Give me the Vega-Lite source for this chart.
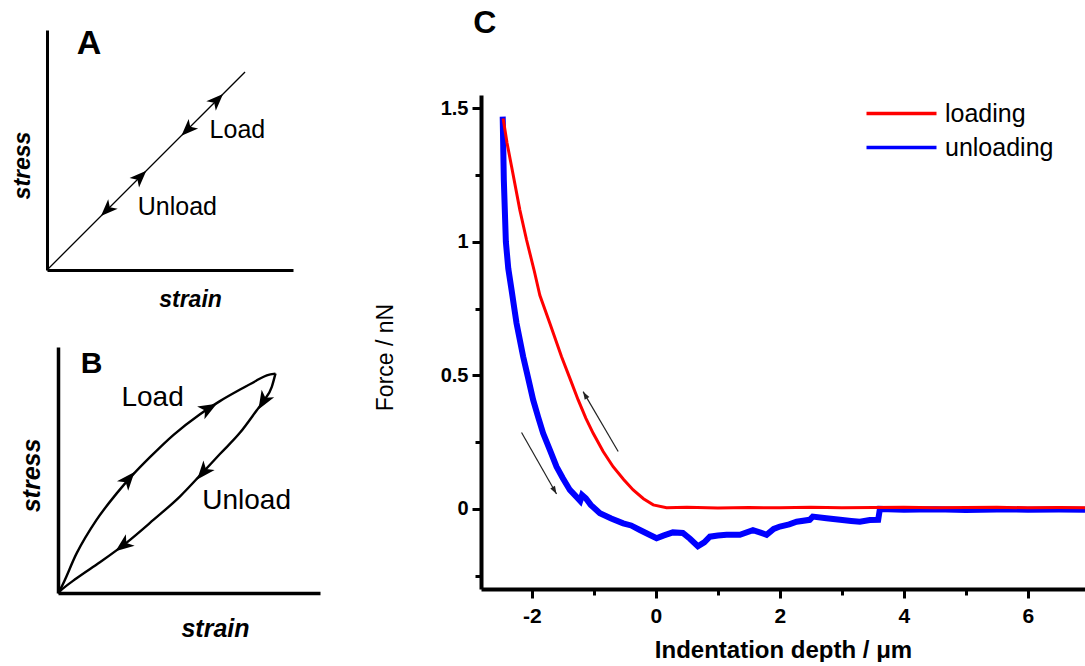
{
  "$schema": "https://vega.github.io/schema/vega-lite/v6.json",
  "padding": {"left": 11, "top": 7, "right": 0, "bottom": 0},
  "config": {
    "font": "Liberation Sans",
    "view": {"stroke": null},
    "axis": {"labelColor": "black", "titleColor": "black", "domainColor": "black", "tickColor": "black", "grid": false},
    "legend": {"orient": "none", "legendX": 842, "legendY": 71, "padding": 0, "direction": "vertical",
               "symbolType": "M-5,0L5,0", "symbolSize": 196, "symbolStrokeWidth": 3.5,
               "labelFontSize": 25, "labelColor": "black", "labelOffset": 31, "rowPadding": 8}
  },
  "datasets": {
    "diagramA": [
      {"strain": 0, "stress": 0},
      {"strain": 8.05, "stress": 8.25}
    ],
    "arrowsA": [
      {"strain": 6.90, "stress": 7.07, "heading": 45},
      {"strain": 5.72, "stress": 5.86, "heading": 225},
      {"strain": 3.78, "stress": 3.87, "heading": 45},
      {"strain": 2.45, "stress": 2.51, "heading": 225}
    ],
    "labelsA": [
      {"strain": 7.74, "stress": 5.83, "label": "Load"},
      {"strain": 5.30, "stress": 2.63, "label": "Unload"}
    ],
    "panelA": [
      {"strain": 1.71, "stress": 9.40, "label": "A"}
    ],
    "diagramB": [
      {"path": "load", "strain": 0, "stress": 0},
      {"path": "load", "strain": 0.08, "stress": 0.14},
      {"path": "load", "strain": 0.71, "stress": 1.61},
      {"path": "load", "strain": 1.47, "stress": 2.97},
      {"path": "load", "strain": 2.24, "stress": 4.05},
      {"path": "load", "strain": 2.87, "stress": 4.82},
      {"path": "load", "strain": 3.51, "stress": 5.52},
      {"path": "load", "strain": 4.40, "stress": 6.42},
      {"path": "load", "strain": 5.42, "stress": 7.27},
      {"path": "load", "strain": 6.18, "stress": 7.80},
      {"path": "load", "strain": 6.95, "stress": 8.27},
      {"path": "load", "strain": 7.55, "stress": 8.62},
      {"path": "load", "strain": 7.97, "stress": 8.85},
      {"path": "load", "strain": 8.30, "stress": 8.92},
      {"path": "unload", "strain": 8.30, "stress": 8.92},
      {"path": "unload", "strain": 8.16, "stress": 8.38},
      {"path": "unload", "strain": 7.84, "stress": 7.80},
      {"path": "unload", "strain": 7.58, "stress": 7.42},
      {"path": "unload", "strain": 6.95, "stress": 6.52},
      {"path": "unload", "strain": 6.18, "stress": 5.65},
      {"path": "unload", "strain": 5.42, "stress": 4.78},
      {"path": "unload", "strain": 4.66, "stress": 3.93},
      {"path": "unload", "strain": 3.64, "stress": 2.97},
      {"path": "unload", "strain": 2.62, "stress": 2.05},
      {"path": "unload", "strain": 1.60, "stress": 1.25},
      {"path": "unload", "strain": 0.71, "stress": 0.60},
      {"path": "unload", "strain": 0.08, "stress": 0.08},
      {"path": "unload", "strain": 0, "stress": 0}
    ],
    "arrowsB": [
      {"strain": 2.68, "stress": 4.62, "heading": 40},
      {"strain": 5.74, "stress": 7.50, "heading": 60},
      {"strain": 7.84, "stress": 7.80, "heading": 211},
      {"strain": 5.55, "stress": 4.92, "heading": 220},
      {"strain": 2.49, "stress": 1.94, "heading": 233}
    ],
    "labelsB": [
      {"strain": 3.61, "stress": 7.93, "label": "Load"},
      {"strain": 7.20, "stress": 3.74, "label": "Unload"}
    ],
    "panelB": [
      {"strain": 1.28, "stress": 9.30, "label": "B"}
    ],
    "panelC": [
      {"depth": -2.758, "force": 1.818, "label": "C"}
    ],
    "forceCurve": [
      {"series": "unloading", "depth": -2.470, "force": 1.469},
      {"series": "unloading", "depth": -2.452, "force": 1.232},
      {"series": "unloading", "depth": -2.419, "force": 1.000},
      {"series": "unloading", "depth": -2.380, "force": 0.900},
      {"series": "unloading", "depth": -2.327, "force": 0.820},
      {"series": "unloading", "depth": -2.274, "force": 0.737},
      {"series": "unloading", "depth": -2.247, "force": 0.695},
      {"series": "unloading", "depth": -2.140, "force": 0.570},
      {"series": "unloading", "depth": -2.060, "force": 0.490},
      {"series": "unloading", "depth": -1.979, "force": 0.408},
      {"series": "unloading", "depth": -1.900, "force": 0.345},
      {"series": "unloading", "depth": -1.818, "force": 0.283},
      {"series": "unloading", "depth": -1.700, "force": 0.215},
      {"series": "unloading", "depth": -1.602, "force": 0.158},
      {"series": "unloading", "depth": -1.500, "force": 0.115},
      {"series": "unloading", "depth": -1.387, "force": 0.071},
      {"series": "unloading", "depth": -1.280, "force": 0.045},
      {"series": "unloading", "depth": -1.220, "force": 0.030},
      {"series": "unloading", "depth": -1.190, "force": 0.052},
      {"series": "unloading", "depth": -1.130, "force": 0.040},
      {"series": "unloading", "depth": -1.050, "force": 0.015},
      {"series": "unloading", "depth": -0.903, "force": -0.016},
      {"series": "unloading", "depth": -0.720, "force": -0.036},
      {"series": "unloading", "depth": -0.527, "force": -0.054},
      {"series": "unloading", "depth": -0.400, "force": -0.062},
      {"series": "unloading", "depth": -0.258, "force": -0.079},
      {"series": "unloading", "depth": -0.120, "force": -0.095},
      {"series": "unloading", "depth": 0.011, "force": -0.110},
      {"series": "unloading", "depth": 0.120, "force": -0.100},
      {"series": "unloading", "depth": 0.274, "force": -0.088},
      {"series": "unloading", "depth": 0.435, "force": -0.090},
      {"series": "unloading", "depth": 0.550, "force": -0.112},
      {"series": "unloading", "depth": 0.677, "force": -0.140},
      {"series": "unloading", "depth": 0.780, "force": -0.125},
      {"series": "unloading", "depth": 0.871, "force": -0.104},
      {"series": "unloading", "depth": 1.000, "force": -0.100},
      {"series": "unloading", "depth": 1.140, "force": -0.097},
      {"series": "unloading", "depth": 1.355, "force": -0.097},
      {"series": "unloading", "depth": 1.565, "force": -0.080},
      {"series": "unloading", "depth": 1.700, "force": -0.090},
      {"series": "unloading", "depth": 1.785, "force": -0.097},
      {"series": "unloading", "depth": 1.900, "force": -0.075},
      {"series": "unloading", "depth": 2.000, "force": -0.066},
      {"series": "unloading", "depth": 2.150, "force": -0.058},
      {"series": "unloading", "depth": 2.270, "force": -0.048},
      {"series": "unloading", "depth": 2.480, "force": -0.041},
      {"series": "unloading", "depth": 2.530, "force": -0.029},
      {"series": "unloading", "depth": 2.750, "force": -0.035},
      {"series": "unloading", "depth": 2.970, "force": -0.041},
      {"series": "unloading", "depth": 3.150, "force": -0.045},
      {"series": "unloading", "depth": 3.290, "force": -0.048},
      {"series": "unloading", "depth": 3.450, "force": -0.042},
      {"series": "unloading", "depth": 3.585, "force": -0.041},
      {"series": "unloading", "depth": 3.613, "force": 0.000},
      {"series": "unloading", "depth": 4.000, "force": -0.003},
      {"series": "unloading", "depth": 4.500, "force": -0.001},
      {"series": "unloading", "depth": 5.000, "force": -0.004},
      {"series": "unloading", "depth": 5.500, "force": -0.002},
      {"series": "unloading", "depth": 6.000, "force": -0.003},
      {"series": "unloading", "depth": 6.500, "force": -0.002},
      {"series": "unloading", "depth": 6.920, "force": -0.003},
      {"series": "loading", "depth": -2.463, "force": 1.462},
      {"series": "loading", "depth": -2.400, "force": 1.370},
      {"series": "loading", "depth": -2.327, "force": 1.282},
      {"series": "loading", "depth": -2.194, "force": 1.120},
      {"series": "loading", "depth": -2.085, "force": 1.007},
      {"series": "loading", "depth": -1.960, "force": 0.890},
      {"series": "loading", "depth": -1.871, "force": 0.800},
      {"series": "loading", "depth": -1.710, "force": 0.695},
      {"series": "loading", "depth": -1.521, "force": 0.570},
      {"series": "loading", "depth": -1.380, "force": 0.485},
      {"series": "loading", "depth": -1.253, "force": 0.408},
      {"series": "loading", "depth": -1.130, "force": 0.340},
      {"series": "loading", "depth": -1.011, "force": 0.283},
      {"series": "loading", "depth": -0.850, "force": 0.215},
      {"series": "loading", "depth": -0.689, "force": 0.158},
      {"series": "loading", "depth": -0.520, "force": 0.110},
      {"series": "loading", "depth": -0.366, "force": 0.071},
      {"series": "loading", "depth": -0.200, "force": 0.038},
      {"series": "loading", "depth": -0.043, "force": 0.015},
      {"series": "loading", "depth": 0.173, "force": 0.004},
      {"series": "loading", "depth": 0.500, "force": 0.006},
      {"series": "loading", "depth": 1.000, "force": 0.003},
      {"series": "loading", "depth": 1.500, "force": 0.005},
      {"series": "loading", "depth": 2.000, "force": 0.004},
      {"series": "loading", "depth": 2.500, "force": 0.006},
      {"series": "loading", "depth": 3.000, "force": 0.004},
      {"series": "loading", "depth": 3.500, "force": 0.005},
      {"series": "loading", "depth": 4.000, "force": 0.006},
      {"series": "loading", "depth": 4.500, "force": 0.004},
      {"series": "loading", "depth": 5.000, "force": 0.005},
      {"series": "loading", "depth": 5.500, "force": 0.006},
      {"series": "loading", "depth": 6.000, "force": 0.004},
      {"series": "loading", "depth": 6.500, "force": 0.005},
      {"series": "loading", "depth": 6.920, "force": 0.004}
    ],
    "arrowsC": [
      {"depth": -0.608, "force": 0.215, "tipDepth": -1.173, "tipForce": 0.439, "heading": 330},
      {"depth": -2.166, "force": 0.286, "tipDepth": -1.602, "tipForce": 0.056, "heading": 150}
    ]
  },
  "hconcat": [
    {
      "vconcat": [
        {
          "width": 246,
          "height": 240,
          "layer": [
            {
              "data": {"name": "diagramA"},
              "mark": {"type": "line", "color": "black", "strokeWidth": 1.3},
              "encoding": {
                "x": {"field": "strain", "type": "quantitative", "scale": {"domain": [0, 10], "nice": false},
                      "axis": {"title": "strain", "ticks": false, "labels": false, "domainWidth": 3, "minExtent": 0, "titleFontSize": 23, "titleFontWeight": "bold", "titleFontStyle": "italic", "titlePadding": 18, "titleX": 143}},
                "y": {"field": "stress", "type": "quantitative", "scale": {"domain": [0, 10], "nice": false},
                      "axis": {"title": "stress", "ticks": false, "labels": false, "domainWidth": 3, "minExtent": 0, "titleFontSize": 23, "titleFontWeight": "bold", "titleFontStyle": "italic", "titlePadding": 13, "titleY": 135}}
              }
            },
            {
              "data": {"name": "arrowsA"},
              "mark": {"type": "point", "shape": "M0,-1L0.75,0.9L0,0.4L-0.75,0.9Z", "filled": true, "color": "black", "opacity": 1, "size": 320},
              "encoding": {
                "x": {"field": "strain", "type": "quantitative"},
                "y": {"field": "stress", "type": "quantitative"},
                "angle": {"field": "heading", "type": "quantitative", "scale": null}
              }
            },
            {
              "data": {"name": "labelsA"},
              "mark": {"type": "text", "fontSize": 25, "color": "black", "align": "center", "baseline": "middle"},
              "encoding": {
                "x": {"field": "strain", "type": "quantitative"},
                "y": {"field": "stress", "type": "quantitative"},
                "text": {"field": "label"}
              }
            },
            {
              "data": {"name": "panelA"},
              "mark": {"type": "text", "fontSize": 34, "fontWeight": "bold", "color": "black", "align": "center", "baseline": "middle"},
              "encoding": {
                "x": {"field": "strain", "type": "quantitative"},
                "y": {"field": "stress", "type": "quantitative"},
                "text": {"field": "label"}
              }
            }
          ]
        },
        {
          "width": 273,
          "height": 246,
          "layer": [
            {
              "data": {"name": "diagramB"},
              "mark": {"type": "line", "color": "black", "strokeWidth": 2.4, "interpolate": "monotone"},
              "encoding": {
                "x": {"field": "strain", "type": "quantitative", "scale": {"domain": [0, 10], "nice": false, "range": [11, 273]},
                      "axis": {"title": "strain", "ticks": false, "labels": false, "domainWidth": 3.5, "minExtent": 0, "titleFontSize": 25, "titleFontWeight": "bold", "titleFontStyle": "italic", "titlePadding": 23, "titleX": 168}},
                "y": {"field": "stress", "type": "quantitative", "scale": {"domain": [0, 10], "nice": false},
                      "axis": {"title": "stress", "ticks": false, "labels": false, "domainWidth": 3.5, "minExtent": 0, "offset": -11, "titleFontSize": 25, "titleFontWeight": "bold", "titleFontStyle": "italic", "titlePadding": 14, "titleY": 128}},
                "detail": {"field": "path", "type": "nominal"}
              }
            },
            {
              "data": {"name": "arrowsB"},
              "mark": {"type": "point", "shape": "M0,-1L0.75,0.9L0,0.4L-0.75,0.9Z", "filled": true, "color": "black", "opacity": 1, "size": 380},
              "encoding": {
                "x": {"field": "strain", "type": "quantitative"},
                "y": {"field": "stress", "type": "quantitative"},
                "angle": {"field": "heading", "type": "quantitative", "scale": null}
              }
            },
            {
              "data": {"name": "labelsB"},
              "mark": {"type": "text", "fontSize": 28, "color": "black", "align": "center", "baseline": "middle"},
              "encoding": {
                "x": {"field": "strain", "type": "quantitative"},
                "y": {"field": "stress", "type": "quantitative"},
                "text": {"field": "label"}
              }
            },
            {
              "data": {"name": "panelB"},
              "mark": {"type": "text", "fontSize": 30, "fontWeight": "bold", "color": "black", "align": "center", "baseline": "middle"},
              "encoding": {
                "x": {"field": "strain", "type": "quantitative"},
                "y": {"field": "stress", "type": "quantitative"},
                "text": {"field": "label"}
              }
            }
          ]
        }
      ],
      "spacing": 36
    },
    {
      "width": 604,
      "height": 559,
      "layer": [
        {
          "mark": {"type": "rule", "strokeDash": [2, 5], "color": "#555555", "strokeWidth": 1.6},
          "encoding": {"y": {"datum": 0, "type": "quantitative", "scale": {"domain": [-0.3, 1.55], "nice": false, "zero": false, "range": [559, 65]}}}
        },
        {
          "data": {"name": "forceCurve"},
          "transform": [{"filter": "datum.series === 'unloading'"}],
          "mark": {"type": "line", "strokeWidth": 6},
          "encoding": {
            "x": {"field": "depth", "type": "quantitative", "scale": {"domain": [-2.82, 6.92], "nice": false, "zero": false},
                  "axis": {
                    "values": [-2, -1, 0, 1, 2, 3, 4, 5, 6],
                    "labelExpr": "datum.value % 2 == 0 ? '' + datum.value : ''",
                    "tickSize": {"condition": {"test": "datum.value % 2 != 0", "value": 6}, "value": 9},
                    "tickWidth": 3, "domainWidth": 4,
                    "labelFontSize": 21, "labelFontWeight": "bold", "labelPadding": 7, "labelOverlap": false, "labelFlush": false,
                    "title": "Indentation depth / μm", "titleFontSize": 24, "titleFontWeight": "bold", "titlePadding": 12
                  }},
            "y": {"field": "force", "type": "quantitative", "scale": {"domain": [-0.3, 1.55], "nice": false, "zero": false, "range": [559, 65]},
                  "axis": {
                    "values": [-0.25, 0, 0.25, 0.5, 0.75, 1, 1.25, 1.5],
                    "labelExpr": "abs(datum.value*2 - round(datum.value*2)) < 0.001 ? '' + datum.value : ''",
                    "tickSize": {"condition": {"test": "abs(datum.value*2 - round(datum.value*2)) > 0.001", "value": 6}, "value": 9},
                    "tickWidth": 3, "domainWidth": 4, "minExtent": 0,
                    "labelFontSize": 20, "labelFontWeight": "bold", "labelPadding": 4, "labelOverlap": false,
                    "title": "Force / nN", "titleFontSize": 23, "titleFontWeight": "normal", "titlePadding": 43, "titleY": 327
                  }},
            "color": {"field": "series", "type": "nominal",
                      "scale": {"domain": ["loading", "unloading"], "range": ["#ff0000", "#0000ff"]},
                      "legend": {"title": null}}
          }
        },
        {
          "data": {"name": "forceCurve"},
          "transform": [{"filter": "datum.series === 'loading'"}],
          "mark": {"type": "line", "strokeWidth": 3},
          "encoding": {
            "x": {"field": "depth", "type": "quantitative", "scale": {"domain": [-2.82, 6.92], "nice": false, "zero": false}},
            "y": {"field": "force", "type": "quantitative", "scale": {"domain": [-0.3, 1.55], "nice": false, "zero": false, "range": [559, 65]}},
            "color": {"field": "series", "type": "nominal", "legend": {"title": null}}
          }
        },
        {
          "data": {"name": "arrowsC"},
          "mark": {"type": "rule", "color": "#222222", "strokeWidth": 1.2},
          "encoding": {
            "x": {"field": "depth", "type": "quantitative"},
            "y": {"field": "force", "type": "quantitative"},
            "x2": {"field": "tipDepth"},
            "y2": {"field": "tipForce"}
          }
        },
        {
          "data": {"name": "arrowsC"},
          "mark": {"type": "point", "shape": "M0,0L0.45,1.3L-0.45,1.3Z", "filled": true, "color": "#222222", "opacity": 1, "size": 144},
          "encoding": {
            "x": {"field": "tipDepth", "type": "quantitative"},
            "y": {"field": "tipForce", "type": "quantitative"},
            "angle": {"field": "heading", "type": "quantitative", "scale": null}
          }
        },
        {
          "data": {"name": "panelC"},
          "mark": {"type": "text", "fontSize": 32, "fontWeight": "bold", "color": "black", "align": "center", "baseline": "middle"},
          "encoding": {
            "x": {"field": "depth", "type": "quantitative"},
            "y": {"field": "force", "type": "quantitative"},
            "text": {"field": "label"}
          }
        }
      ]
    }
  ],
  "spacing": 54
}
